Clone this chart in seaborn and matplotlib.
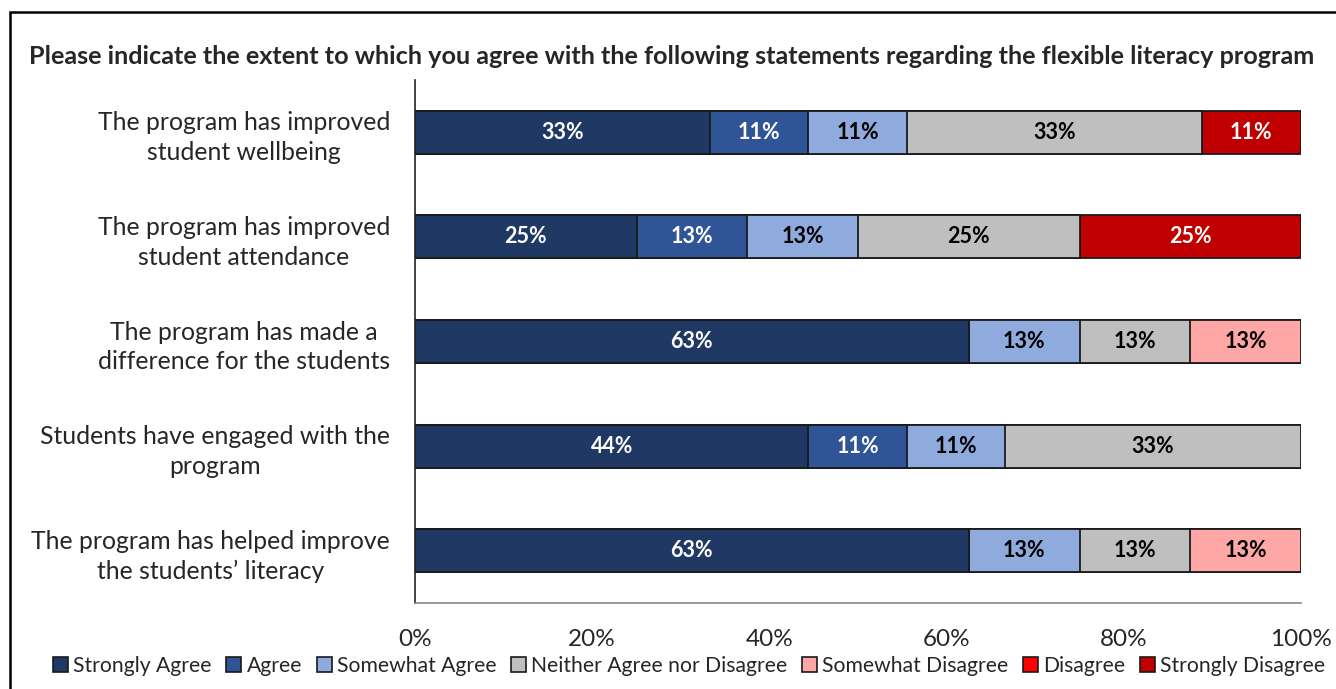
import numpy as np
import pandas as pd
import seaborn as sns
import matplotlib.pyplot as plt
from matplotlib.patches import Patch, Rectangle

# data
statements = [
    "The program has improved\nstudent wellbeing",
    "The program has improved\nstudent attendance",
    "The program has made a\ndifference for the students",
    "Students have engaged with the\nprogram",
    "The program has helped improve\nthe students\u2019 literacy",
]
responses = ["Strongly Agree", "Agree", "Somewhat Agree", "Neither Agree nor Disagree",
             "Somewhat Disagree", "Disagree", "Strongly Disagree"]
strongly_agree = [33.3, 25.0, 62.5, 44.4, 62.5]
agree = [11.1, 12.5, 0.0, 11.1, 0.0]
somewhat_agree = [11.1, 12.5, 12.5, 11.1, 12.5]
neither = [33.3, 25.0, 12.5, 33.4, 12.5]
somewhat_disagree = [0.0, 0.0, 12.5, 0.0, 12.5]
disagree = [0.0, 0.0, 0.0, 0.0, 0.0]
strongly_disagree = [11.2, 25.0, 0.0, 0.0, 0.0]

colors = ["#203864", "#2F5597", "#8FAADC", "#BFBFBF", "#FFA7A7", "#FF0000", "#C00000"]
text_colors = ["white", "white", "black", "black", "black", "white", "white"]

series = [strongly_agree, agree, somewhat_agree, neither,
          somewhat_disagree, disagree, strongly_disagree]
vals = np.array(series)          # shape (7, 5)
cum = np.cumsum(vals, axis=0)

sns.set_style("white")
plt.rcParams['font.family'] = ['Lato', 'DejaVu Sans']

fig = plt.figure(figsize=(13.36, 6.89), dpi=100)
ax = fig.add_axes([415 / 1336, 1 - 603 / 689, 886 / 1336, 523 / 689])

# stacked bars: draw cumulative totals from the largest down
for i in range(len(responses) - 1, -1, -1):
    df = pd.DataFrame({"statement": statements, "value": cum[i]})
    sns.barplot(data=df, x="value", y="statement", order=statements, orient="h",
                color=colors[i], saturation=1, width=0.41,
                edgecolor="#1a1a1a", linewidth=1.3, ax=ax)

# segment labels
for i in range(len(responses)):
    for j in range(len(statements)):
        v = vals[i, j]
        if v <= 0:
            continue
        xc = cum[i, j] - v / 2
        ax.text(xc, j, f"{int(v + 0.5)}%", ha="center", va="center",
                fontsize=15.5, fontweight="bold", color=text_colors[i])

ax.set_xlim(0, 100)
ax.set_ylim(4.5, -0.5)
ax.set_xticks([0, 20, 40, 60, 80, 100])
ax.set_xticklabels(["0%", "20%", "40%", "60%", "80%", "100%"], fontsize=17.5)
ax.set_xlabel("")
ax.set_ylabel("")
ax.tick_params(axis="x", length=0, pad=19)
ax.tick_params(axis="y", length=0, pad=18, labelsize=17.8)
for lab in ax.get_yticklabels():
    lab.set_multialignment("center")
    lab.set_linespacing(1.35)

for s in ["top", "right"]:
    ax.spines[s].set_visible(False)
ax.spines["left"].set_color("#222222")
ax.spines["left"].set_linewidth(1.2)
ax.spines["bottom"].set_color("#888888")
ax.spines["bottom"].set_linewidth(1.2)

fig.text(0.503, 1 - 57 / 689, "Please indicate the extent to which you agree with the following "
         "statements regarding the flexible literacy program",
         ha="center", va="center", fontsize=18.2, fontweight="bold")

handles = [Patch(facecolor=c, edgecolor="#1a1a1a", linewidth=1.2) for c in colors]
fig.legend(handles, responses, loc="center", bbox_to_anchor=(0.516, 1 - 666 / 689),
           ncol=7, frameon=False, fontsize=15.2, handlelength=0.7, handleheight=0.7,
           handletextpad=0.25, columnspacing=0.7)

fig.patches.append(Rectangle((10 / 1336, -0.1), 1.1, 1.1 - 12 / 689, transform=fig.transFigure,
                             fill=False, edgecolor="black", linewidth=1.8, clip_on=False))

fig.savefig("out.png", dpi=100)
